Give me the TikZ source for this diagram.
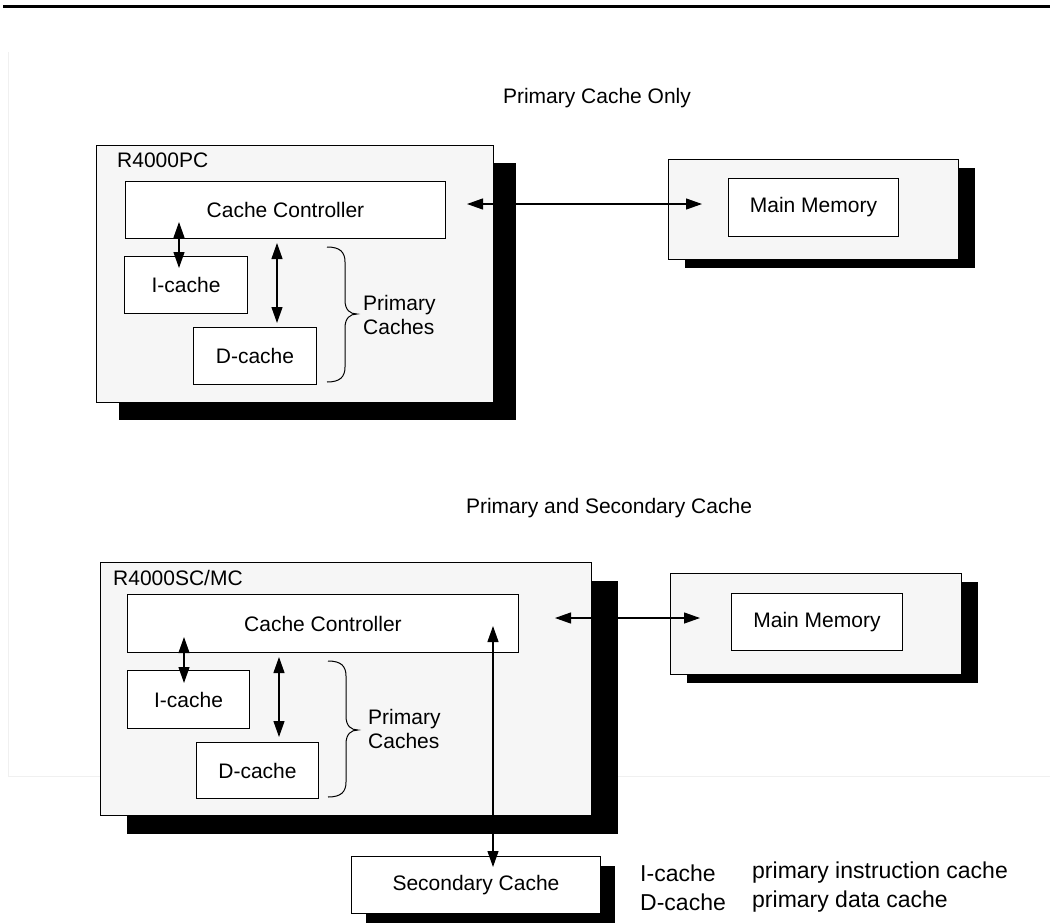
\documentclass[tikz,border=0pt]{standalone}
\usepackage{fontspec}
\setmainfont{Liberation Sans}
\usetikzlibrary{arrows.meta,shadows}
\begin{document}
\begin{tikzpicture}[x=1pt,y=-1pt,
  txt/.style={inner sep=0pt, font=\fontsize{21}{24}\selectfont},
  inbox/.style={draw=black, line width=1pt, fill=white, inner sep=0pt, anchor=north west, font=\fontsize{21}{24}\selectfont},
  outbox/.style={draw=black, line width=1pt, fill=gray!7, inner sep=0pt, anchor=north west},
  bigshadow/.style={general shadow={fill=black, shadow xshift=22pt, shadow yshift=-17pt}},
  bigshadowb/.style={general shadow={fill=black, shadow xshift=26pt, shadow yshift=-18pt}},
  memshadow/.style={general shadow={fill=black, shadow xshift=16pt, shadow yshift=-8pt}},
  secshadow/.style={general shadow={fill=black, shadow xshift=14pt, shadow yshift=-9pt}},
  dbl/.style={line width=1.2pt, {Triangle[length=16pt,width=11pt]}-{Triangle[length=16pt,width=11pt]}},
  bracestyle/.style={line width=1pt},
  faint/.style={draw=gray!12, line width=1pt}
]
\useasboundingbox (0,0) rectangle (1050,922);
% rules
\draw[line width=3pt] (3,6.5) -- (1050,6.5);
\draw[faint] (8,52) -- (8,776) -- (1050,776);

% ===== Upper: Primary Cache Only =====
\node[txt] (titleA) at (597,98) {Primary Cache Only};
\node[outbox, bigshadow, minimum width=397pt, minimum height=257pt] (pc) at (96,145) {};
\node[txt, anchor=west] (pclabel) at (117,160) {R4000PC};
\node[inbox, minimum width=320pt, minimum height=57pt] (ctrlA) at (125,181) {Cache Controller};
\node[inbox, minimum width=123pt, minimum height=57pt] (icA) at (124,256) {I-cache};
\node[inbox, minimum width=123pt, minimum height=57pt] (dcA) at (193,327) {D-cache};
\draw[bracestyle] (327,247) .. controls (340,247) and (345,252) .. (345,262) -- (345,300)
  .. controls (345,310) and (350,314) .. (357,314)
  .. controls (350,314) and (345,318) .. (345,328) -- (345,367)
  .. controls (345,377) and (340,382) .. (327,382);
\node[txt, anchor=west, align=left] (pcA) at (363,315) {Primary\\Caches};
\node[outbox, memshadow, minimum width=290pt, minimum height=100pt] (mmoA) at (668,159) {};
\node[inbox, minimum width=170pt, minimum height=58pt] (mmA) at (728,178) {Main Memory};

\coordinate (a1t) at (179,222); \coordinate (a1b) at (179,268);
\coordinate (a2t) at (277,243); \coordinate (a2b) at (277,323);
\coordinate (a3l) at (467,204); \coordinate (a3r) at (702,204);
\draw[dbl] (a1t) -- (a1b);
\draw[dbl] (a2t) -- (a2b);
\draw[dbl] (a3l) -- (a3r);

% ===== Lower: Primary and Secondary Cache =====
\node[txt] (titleB) at (609,508) {Primary and Secondary Cache};
\node[outbox, bigshadowb, minimum width=491pt, minimum height=253pt] (sc) at (100,562) {};
\node[txt, anchor=west] (sclabel) at (113,578) {R4000SC/MC};
\node[inbox, minimum width=391pt, minimum height=58pt] (ctrlB) at (127,594) {Cache Controller};
\node[inbox, minimum width=122pt, minimum height=58pt] (icB) at (127,670) {I-cache};
\node[inbox, minimum width=122pt, minimum height=56pt] (dcB) at (196,742) {D-cache};
\draw[bracestyle] (328,661) .. controls (341,661) and (346,666) .. (346,676) -- (346,716)
  .. controls (346,726) and (351,730) .. (358,730)
  .. controls (351,730) and (346,734) .. (346,744) -- (346,782)
  .. controls (346,792) and (341,797) .. (328,797);
\node[txt, anchor=west, align=left] (pcB) at (368,729) {Primary\\Caches};
\node[outbox, memshadow, minimum width=291pt, minimum height=101pt] (mmoB) at (670,573) {};
\node[inbox, minimum width=171pt, minimum height=57pt] (mmB) at (731,593) {Main Memory};
\node[inbox, secshadow, minimum width=249pt, minimum height=57pt] (sec) at (351,856) {Secondary Cache};

\coordinate (b1t) at (184,637); \coordinate (b1b) at (184,683);
\coordinate (b2t) at (279,657); \coordinate (b2b) at (279,737);
\coordinate (b3l) at (555,618); \coordinate (b3r) at (700,618);
\coordinate (b4t) at (493,626); \coordinate (b4b) at (493,867);
\draw[dbl] (b1t) -- (b1b);
\draw[dbl] (b2t) -- (b2b);
\draw[dbl] (b3l) -- (b3r);
\draw[dbl] (b4t) -- (b4b);

% legend
\node[txt, anchor=west, font=\fontsize{23}{26}\selectfont] (l1a) at (640,873) {I-cache};
\node[txt, anchor=west, font=\fontsize{23}{26}\selectfont] (l1b) at (752,873) {primary instruction cache};
\node[txt, anchor=west, font=\fontsize{23}{26}\selectfont] (l2a) at (640,902) {D-cache};
\node[txt, anchor=west, font=\fontsize{23}{26}\selectfont] (l2b) at (752,902) {primary data cache};
\end{tikzpicture}
\end{document}
